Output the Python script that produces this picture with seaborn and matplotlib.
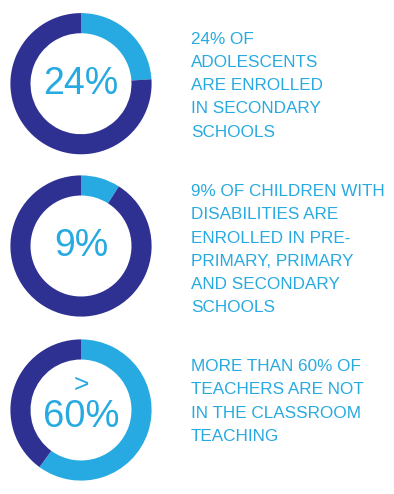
import matplotlib
matplotlib.use("Agg")
import matplotlib.pyplot as plt
import seaborn as sns

# data
shares = [24, 9, 60]
centre_labels = ["24%", "9%", "60%"]
centre_prefix = ["", "", ">"]
captions = [
    ["24% OF", "ADOLESCENTS", "ARE ENROLLED", "IN SECONDARY", "SCHOOLS"],
    ["9% OF CHILDREN WITH", "DISABILITIES ARE", "ENROLLED IN PRE-",
     "PRIMARY, PRIMARY", "AND SECONDARY", "SCHOOLS"],
    ["MORE THAN 60% OF", "TEACHERS ARE NOT", "IN THE CLASSROOM", "TEACHING"],
]

sns.set_theme(style="white")
plt.rcParams['font.family'] = ['Liberation Sans', 'DejaVu Sans']

light_blue = "#27AAE1"
navy = "#2E3192"

W, H = 394, 494
fig = plt.figure(figsize=(W / 100, H / 100), dpi=100)
fig.patch.set_facecolor("white")

# donut centres / radius in pixels
centres_y = [83.7, 246, 410]
cx = 81
r = 70.6
# caption first baseline in pixels
first_baseline = [43.5, 196, 371]
line_step = 23.3

for i, share in enumerate(shares):
    cy = centres_y[i]
    ax = fig.add_axes([(cx - r) / W, (H - cy - r) / H, 2 * r / W, 2 * r / H])
    ax.pie([share, 100 - share], colors=[light_blue, navy], startangle=90,
           counterclock=False, radius=1,
           wedgeprops=dict(width=0.285, linewidth=0))
    ax.set_xlim(-1, 1)
    ax.set_ylim(-1, 1)
    ax.set_aspect("equal")
    ax.axis("off")

    if centre_prefix[i]:
        ax.text(0, 0.36, centre_prefix[i], ha="center", va="center",
                fontsize=19, color=light_blue)
        ax.text(0, -0.1, centre_labels[i], ha="center", va="center",
                fontsize=27.5, color=light_blue)
    else:
        ax.text(0, 0, centre_labels[i], ha="center", va="center",
                fontsize=27, color=light_blue)

    for j, line in enumerate(captions[i]):
        y = first_baseline[i] + j * line_step
        fig.text(191 / W, 1 - y / H, line, ha="left", va="baseline",
                 fontsize=12.3, color=light_blue)

fig.savefig("out.png", dpi=100, facecolor="white")
